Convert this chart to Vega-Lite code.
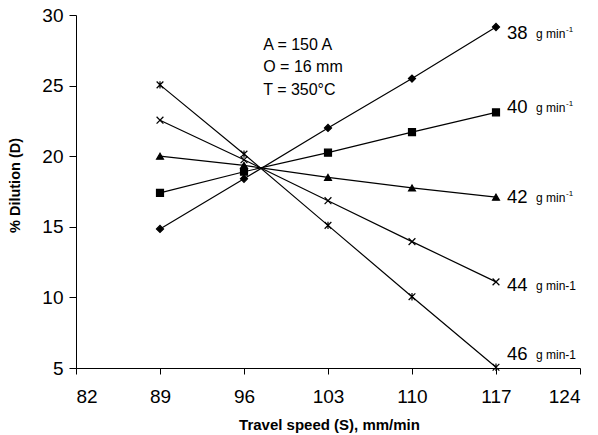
{
  "$schema": "https://vega.github.io/schema/vega-lite/v6.json",
  "width": 504,
  "height": 353,
  "autosize": {"type": "none"},
  "padding": {"left": 76, "top": 15, "right": 18, "bottom": 67},
  "background": "white",
  "config": {
    "view": {"stroke": null},
    "font": "Liberation Sans",
    "axis": {"grid": false, "domainColor": "black", "tickColor": "black", "labelColor": "black", "titleColor": "black", "labelFont": "Liberation Sans", "titleFont": "Liberation Sans"}
  },
  "datasets": {
    "pts": [
      {"series": "38", "speed": 89, "dilution": 14.85},
      {"series": "38", "speed": 96, "dilution": 18.4},
      {"series": "38", "speed": 103, "dilution": 22.0},
      {"series": "38", "speed": 110, "dilution": 25.5},
      {"series": "38", "speed": 117, "dilution": 29.15},
      {"series": "40", "speed": 89, "dilution": 17.4},
      {"series": "40", "speed": 96, "dilution": 18.9},
      {"series": "40", "speed": 103, "dilution": 20.25},
      {"series": "40", "speed": 110, "dilution": 21.7},
      {"series": "40", "speed": 117, "dilution": 23.1},
      {"series": "42", "speed": 89, "dilution": 20.0},
      {"series": "42", "speed": 96, "dilution": 19.35},
      {"series": "42", "speed": 103, "dilution": 18.5},
      {"series": "42", "speed": 110, "dilution": 17.75},
      {"series": "42", "speed": 117, "dilution": 17.1},
      {"series": "44", "speed": 89, "dilution": 22.55},
      {"series": "44", "speed": 96, "dilution": 19.75},
      {"series": "44", "speed": 103, "dilution": 16.85},
      {"series": "44", "speed": 110, "dilution": 13.95},
      {"series": "44", "speed": 117, "dilution": 11.1},
      {"series": "46", "speed": 89, "dilution": 25.05},
      {"series": "46", "speed": 96, "dilution": 20.15},
      {"series": "46", "speed": 103, "dilution": 15.1},
      {"series": "46", "speed": 110, "dilution": 10.05},
      {"series": "46", "speed": 117, "dilution": 5.05}
    ],
    "labels": [
      {"series": "38", "speed": 117, "ly": 28.7, "num": "38", "unit": "g min", "sup": "-1"},
      {"series": "40", "speed": 117, "ly": 23.5, "num": "40", "unit": "g min", "sup": "-1"},
      {"series": "42", "speed": 117, "ly": 17.1, "num": "42", "unit": "g min", "sup": "-1"},
      {"series": "44", "speed": 117, "ly": 10.85, "num": "44", "unit": "g min-1", "sup": ""},
      {"series": "46", "speed": 117, "ly": 6.0, "num": "46", "unit": "g min-1", "sup": ""}
    ],
    "notes": [
      {"speed": 97.6, "ny": 27.9, "note": "A = 150 A"},
      {"speed": 97.6, "ny": 26.3, "note": "O = 16 mm"},
      {"speed": 97.6, "ny": 24.7, "note": "T = 350°C"}
    ]
  },
  "layer": [
    {
      "data": {"name": "pts"},
      "mark": {"type": "line", "color": "black", "strokeWidth": 1.2},
      "encoding": {
        "x": {"field": "speed", "type": "quantitative", "scale": {"domain": [82, 124], "nice": false, "zero": false},
              "axis": {"values": [82, 89, 96, 103, 110, 117, 124], "title": "Travel speed (S), mm/min", "labelFontSize": 19, "tickSize": 6, "labelPadding": 13, "titleFontSize": 15, "titleFontWeight": "bold", "titleX": 253, "titleY": 56, "titleBaseline": "middle", "titleAnchor": "middle"}},
        "y": {"field": "dilution", "type": "quantitative", "scale": {"domain": [5, 30], "nice": false, "zero": false},
              "axis": {"values": [5, 10, 15, 20, 25, 30], "title": "% Dilution (D)", "labelFontSize": 19, "tickSize": 7, "labelPadding": 6, "titleFontSize": 14.5, "titleFontWeight": "bold", "titleX": -61, "titleY": 170, "titleBaseline": "middle", "titleAngle": -90, "titleAlign": "center"}},
        "detail": {"field": "series"}
      }
    },
    {
      "data": {"name": "pts"},
      "mark": {"type": "point", "filled": true, "color": "black", "stroke": "black", "strokeWidth": 1.2, "opacity": 1},
      "encoding": {
        "x": {"field": "speed", "type": "quantitative"},
        "y": {"field": "dilution", "type": "quantitative"},
        "shape": {"field": "series", "type": "nominal", "legend": null,
                  "scale": {"domain": ["38", "40", "42", "44", "46"],
                            "range": ["diamond", "square", "triangle-up", "M-1,-1L1,1M-1,1L1,-1", "M-1,-1L1,1M-1,1L1,-1M0,-1.1L0,1.1"]}},
        "size": {"field": "series", "type": "nominal", "legend": null,
                 "scale": {"domain": ["38", "40", "42", "44", "46"], "range": [50, 45, 55, 60, 60]}}
      }
    },
    {
      "data": {"name": "labels"},
      "mark": {"type": "text", "align": "left", "baseline": "middle", "dx": 11, "fontSize": 18.5, "color": "black"},
      "encoding": {
        "x": {"field": "speed", "type": "quantitative"},
        "y": {"field": "ly", "type": "quantitative"},
        "text": {"field": "num"}
      }
    },
    {
      "data": {"name": "labels"},
      "mark": {"type": "text", "align": "left", "baseline": "middle", "dx": 40, "dy": 1, "fontSize": 12, "color": "black"},
      "encoding": {
        "x": {"field": "speed", "type": "quantitative"},
        "y": {"field": "ly", "type": "quantitative"},
        "text": {"field": "unit"}
      }
    },
    {
      "data": {"name": "labels"},
      "mark": {"type": "text", "align": "left", "baseline": "middle", "dx": 70, "dy": -3, "fontSize": 8, "color": "black"},
      "encoding": {
        "x": {"field": "speed", "type": "quantitative"},
        "y": {"field": "ly", "type": "quantitative"},
        "text": {"field": "sup"}
      }
    },
    {
      "data": {"name": "notes"},
      "mark": {"type": "text", "align": "left", "baseline": "middle", "fontSize": 16, "color": "black"},
      "encoding": {
        "x": {"field": "speed", "type": "quantitative"},
        "y": {"field": "ny", "type": "quantitative"},
        "text": {"field": "note"}
      }
    }
  ]
}
